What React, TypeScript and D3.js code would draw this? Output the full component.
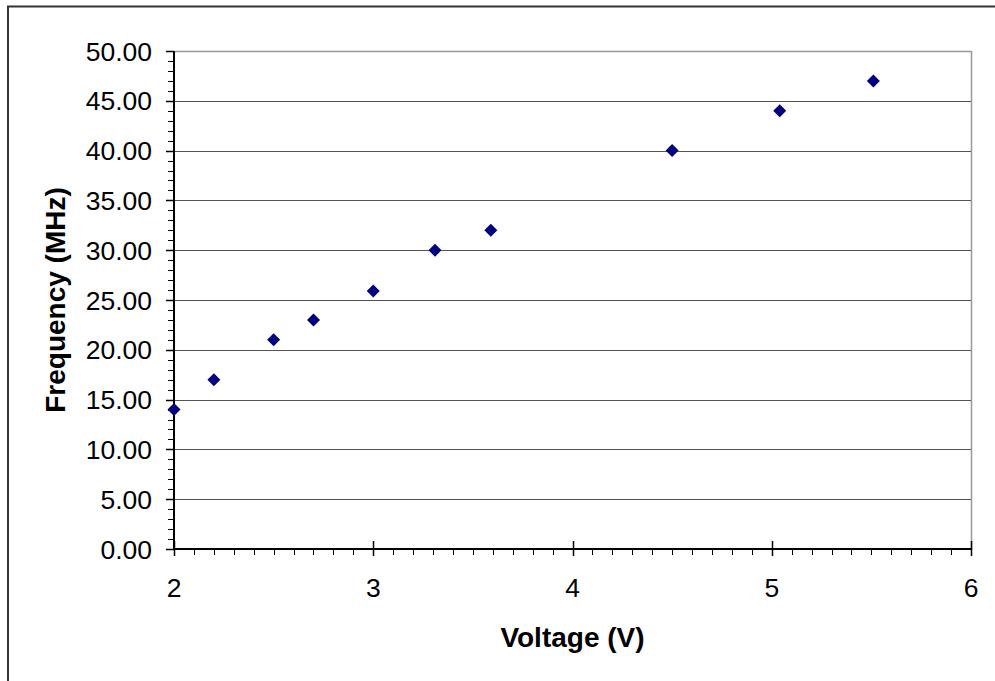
import React from "react";
import * as d3 from "d3";

const voltage = [2.0, 2.2, 2.5, 2.7, 3.0, 3.31, 3.59, 4.5, 5.04, 5.51];
const frequency = [14, 17, 21, 23, 25.9, 30, 32, 40, 44, 47];
const xTicks = [2, 3, 4, 5, 6];
const yTicks = [0, 5, 10, 15, 20, 25, 30, 35, 40, 45, 50];

const W = 995;
const H = 681;
const font = "'Liberation Sans', Arial, sans-serif";

export default function App() {
  const x = d3.scaleLinear().domain([2, 6]).range([174, 971]);
  const y = d3.scaleLinear().domain([0, 50]).range([549, 51]);
  const xMinor = d3.range(2, 6.0001, 0.1).map((v) => Math.round(v * 10) / 10);
  const yMinor = d3.range(0, 50.0001, 1);
  const r = 6.5;
  const diamond = `M0,${-r}L${r},0L0,${r}L${-r},0Z`;
  return (
    <svg
      width={W}
      height={H}
      style={{ position: "absolute", left: 0, top: 0, background: "#fff" }}
    >
      <rect x={8} y={6.5} width={W + 10} height={H + 10} fill="#fff" stroke="#333" strokeWidth={2} />
      {/* plot frame top/right */}
      <line x1={x(2)} x2={x(6)} y1={y(50) + 0.5} y2={y(50) + 0.5} stroke="#999" strokeWidth={1.5} />
      <line x1={x(6) + 0.5} x2={x(6) + 0.5} y1={y(50)} y2={y(0)} stroke="#999" strokeWidth={1.5} />
      {/* gridlines */}
      {yTicks.filter((t) => t > 0 && t < 50).map((t) => (
        <line key={"g" + t} x1={x(2)} x2={x(6)} y1={Math.round(y(t)) + 0.5} y2={Math.round(y(t)) + 0.5} stroke="#555" strokeWidth={1} />
      ))}
      {/* y axis minor ticks */}
      {yMinor.map((t) => (
        <line key={"ym" + t} x1={168} x2={174} y1={Math.round(y(t)) + 0.5} y2={Math.round(y(t)) + 0.5} stroke="#000" strokeWidth={1} />
      ))}
      {yTicks.map((t) => (
        <line key={"yM" + t} x1={166} x2={174} y1={Math.round(y(t)) + 0.5} y2={Math.round(y(t)) + 0.5} stroke="#000" strokeWidth={1.5} />
      ))}
      {/* x axis minor ticks */}
      {xMinor.map((t) => (
        <line key={"xm" + t} x1={Math.round(x(t)) + 0.5} x2={Math.round(x(t)) + 0.5} y1={549} y2={555} stroke="#000" strokeWidth={1} />
      ))}
      {xTicks.map((t) => (
        <line key={"xM" + t} x1={Math.round(x(t)) + 0.5} x2={Math.round(x(t)) + 0.5} y1={541} y2={556} stroke="#000" strokeWidth={1.5} />
      ))}
      {/* axes */}
      <line x1={x(2)} x2={x(2)} y1={y(50)} y2={y(0)} stroke="#000" strokeWidth={2} />
      <line x1={x(2)} x2={x(6)} y1={y(0)} y2={y(0)} stroke="#000" strokeWidth={2} />
      {/* tick labels */}
      {yTicks.map((t) => (
        <text key={"yl" + t} x={152} y={y(t) + 9.5} textAnchor="end" fontFamily={font} fontSize={26.5} fill="#000">
          {t.toFixed(2)}
        </text>
      ))}
      {xTicks.map((t) => (
        <text key={"xl" + t} x={x(t)} y={597} textAnchor="middle" fontFamily={font} fontSize={26.5} fill="#000">
          {t}
        </text>
      ))}
      {/* titles */}
      <text x={x(4)} y={646.5} textAnchor="middle" fontFamily={font} fontSize={28} fontWeight="bold" fill="#000">
        Voltage (V)
      </text>
      <text
        transform={`translate(65, ${(y(0) + y(50)) / 2}) rotate(-90)`}
        textAnchor="middle"
        fontFamily={font}
        fontSize={28}
        fontWeight="bold"
        fill="#000"
      >
        Frequency (MHz)
      </text>
      {/* points */}
      {voltage.map((v, i) => (
        <path key={"p" + i} d={diamond} transform={`translate(${x(v)}, ${y(frequency[i])})`} fill="#000080" />
      ))}
    </svg>
  );
}
